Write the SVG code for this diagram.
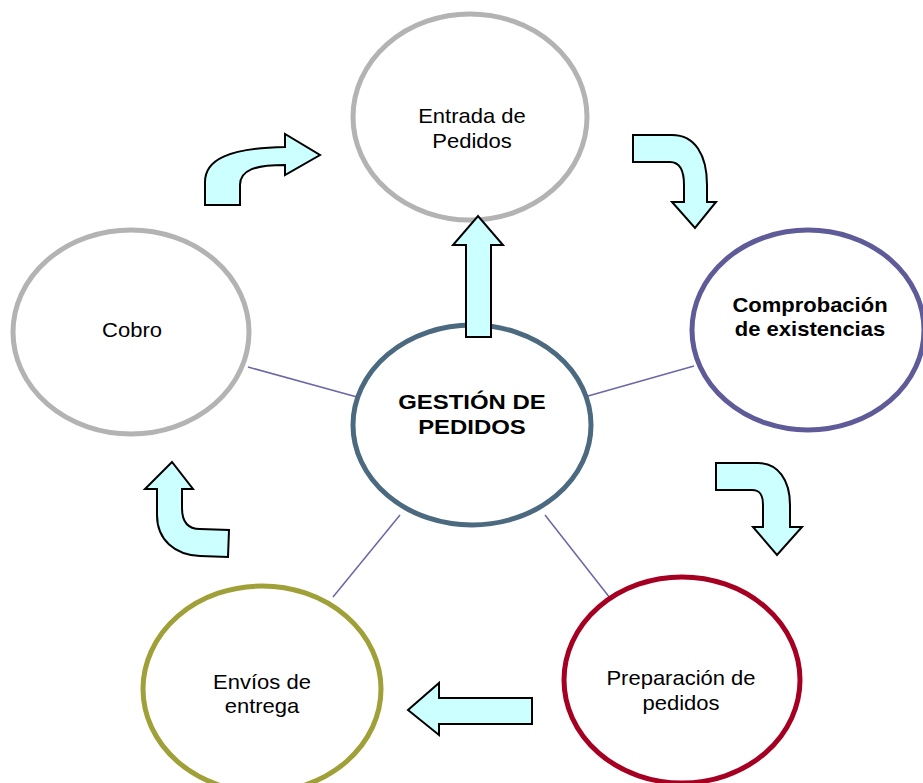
<svg xmlns="http://www.w3.org/2000/svg" width="923" height="783" viewBox="0 0 923 783">
  <style>
    .node { fill: #ffffff; stroke-width: 5; }
    .lbl { font-family: "Liberation Sans", Arial, sans-serif; font-size: 20px; fill: #000; text-anchor: middle; }
    .b { font-weight: bold; }
    .link { stroke: #6a67a6; stroke-width: 1.5; fill: none; }
    .arrow { fill: #ccffff; stroke: #000; stroke-width: 2; stroke-linejoin: miter; }
  </style>
  <rect width="923" height="783" fill="#ffffff"/>

  <!-- spokes from the hub to the outer steps -->
  <g id="connectors">
    <line class="link" x1="248" y1="367" x2="357" y2="397"/>
    <line class="link" x1="588" y1="396" x2="694" y2="366"/>
    <line class="link" x1="400" y1="515" x2="333" y2="597"/>
    <line class="link" x1="545" y1="515" x2="610" y2="598"/>
  </g>

  <g id="entrada">
    <ellipse class="node" cx="470" cy="117" rx="117" ry="103" stroke="#b3b3b3"/>
    <g class="lbl" transform="translate(472,0) scale(1.1,1)">
      <text x="0" y="123">Entrada de</text>
      <text x="0" y="148">Pedidos</text>
    </g>
  </g>

  <g id="comprobacion">
    <ellipse class="node" cx="808" cy="330" rx="116" ry="100" stroke="#5e5b98"/>
    <g class="lbl b" transform="translate(810,0) scale(1.1,1)">
      <text x="0" y="312">Comprobación</text>
      <text x="0" y="336">de existencias</text>
    </g>
  </g>

  <g id="cobro">
    <ellipse class="node" cx="131" cy="332" rx="118" ry="102" stroke="#b3b3b3"/>
    <g class="lbl" transform="translate(132,0) scale(1.1,1)">
      <text x="0" y="337">Cobro</text>
    </g>
  </g>

  <g id="envios">
    <ellipse class="node" cx="262" cy="689" rx="119" ry="103" stroke="#a0a038"/>
    <g class="lbl" transform="translate(262,0) scale(1.1,1)">
      <text x="0" y="689">Envíos de</text>
      <text x="0" y="713">entrega</text>
    </g>
  </g>

  <g id="preparacion">
    <ellipse class="node" cx="682" cy="680" rx="118" ry="103" stroke="#a50021"/>
    <g class="lbl" transform="translate(681,0) scale(1.1,1)">
      <text x="0" y="685">Preparación de</text>
      <text x="0" y="710">pedidos</text>
    </g>
  </g>

  <g id="gestion">
    <ellipse class="node" cx="472" cy="425" rx="119" ry="100" stroke="#4b6a80"/>
    <g class="lbl b" transform="translate(472,0) scale(1.14,1)" style="font-size:21px">
      <text x="0" y="409">GESTIÓN DE</text>
      <text x="0" y="434">PEDIDOS</text>
    </g>
  </g>

  <!-- flow arrows -->
  <g id="arrows">
    <path class="arrow" d="M466,337 L466,245 L453,245 L478,216 L503,245 L491,245 L491,337 Z"/>
    <path class="arrow" d="M205,205 L205,182 C205,160 228,148 285,147 L285,134 L320,155 L285,175 L285,165 C255,165 240,170 240,185 L240,205 Z"/>
    <path class="arrow" d="M633,135 L672,135 C695,135 707,155 707,185 L707,202 L716,202 L695,228 L672,202 L684,202 L684,185 C684,170 680,162 670,162 L633,162 Z"/>
    <path class="arrow" d="M716,463 L758,463 C778,463 790,480 790,505 L790,527 L802,527 L777,555 L753,527 L763,527 L763,505 C763,495 760,490 752,490 L716,490 Z"/>
    <path class="arrow" d="M532,698 L439,698 L439,683 L408,710 L439,735 L439,724 L532,724 Z"/>
    <path class="arrow" d="M157,489 L145,489 L172,462 L193,489 L182,489 L182,508 C182,522 188,529 200,529 L229,530 L228,557 L200,556 C175,555 157,540 157,515 Z"/>
  </g>
</svg>
